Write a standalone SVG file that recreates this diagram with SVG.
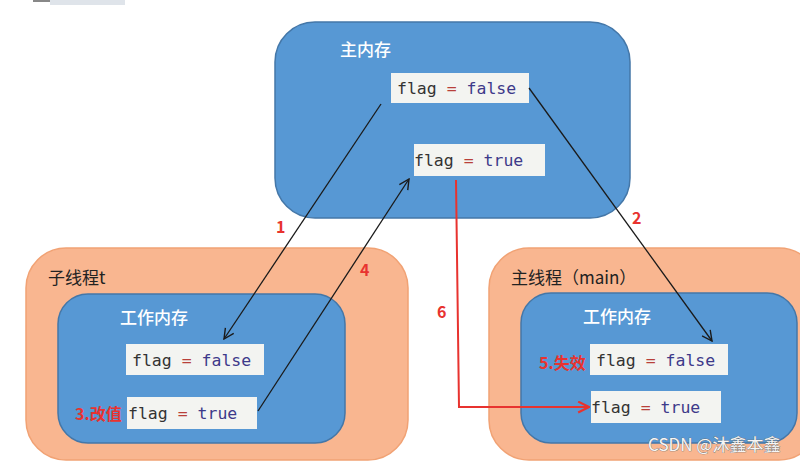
<svg xmlns="http://www.w3.org/2000/svg" width="800" height="462" viewBox="0 0 800 462">
<defs>
<style>
.blue{fill:#5798d4;stroke:#4477a8;stroke-width:1.5}
.orange{fill:#f9b690;stroke:#f1a274;stroke-width:1.5}
.val{fill:#f3f4f1}
.code{font-family:"DejaVu Sans Mono","Liberation Mono",monospace;font-size:16.5px}
.k{fill:#333333}
.eq{fill:#b8403a}
.v{fill:#3d3a8a}
.title{font-family:"Noto Sans CJK SC",sans-serif;font-size:17px;font-weight:500;fill:#ffffff}
.thr{font-family:"Noto Sans CJK SC",sans-serif;font-size:17px;fill:#222222}
.red{font-family:"Noto Sans CJK SC",sans-serif;font-size:16px;font-weight:bold;fill:#e8332f}
.line{stroke:#1a1a1a;stroke-width:1.3;fill:none}
.redline{stroke:#e8332f;stroke-width:2;fill:none}
</style>
<marker id="ah" viewBox="0 0 12 12" refX="11" refY="6" markerWidth="12" markerHeight="12" markerUnits="userSpaceOnUse" orient="auto">
<path d="M1,1 L11,6 L1,11" fill="none" stroke="#1a1a1a" stroke-width="1.4"/>
</marker>
<marker id="ahr" viewBox="0 0 12 12" refX="11" refY="6" markerWidth="13" markerHeight="13" markerUnits="userSpaceOnUse" orient="auto">
<path d="M1,1 L11,6 L1,11" fill="none" stroke="#e8332f" stroke-width="2"/>
</marker>
</defs>
<rect width="800" height="462" fill="#ffffff"/>
<rect x="33" y="0" width="17" height="2" fill="#888888"/>
<rect x="50" y="0" width="75" height="5" fill="#dfe4ea"/>

<g id="main-memory">
<rect class="blue" x="275" y="22" width="355" height="196" rx="40"/>
<text class="title" x="340" y="56">主内存</text>
<rect class="val" x="391" y="73" width="138" height="30"/>
<text class="code" x="397" y="94"><tspan class="k">flag</tspan><tspan class="eq"> = </tspan><tspan class="v">false</tspan></text>
<rect class="val" x="414" y="144" width="131" height="32"/>
<text class="code" x="414" y="166"><tspan class="k">flag</tspan><tspan class="eq"> = </tspan><tspan class="v">true</tspan></text>
</g>

<g id="thread-t">
<rect class="orange" x="26" y="248" width="382" height="212" rx="40"/>
<text class="thr" x="48" y="284">子线程t</text>
<rect class="blue" x="58" y="294" width="287" height="149" rx="30"/>
<text class="title" x="120" y="324">工作内存</text>
<rect class="val" x="126" y="344" width="138" height="31"/>
<text class="code" x="132" y="366"><tspan class="k">flag</tspan><tspan class="eq"> = </tspan><tspan class="v">false</tspan></text>
<rect class="val" x="127" y="397" width="130" height="32"/>
<text class="code" x="128" y="419"><tspan class="k">flag</tspan><tspan class="eq"> = </tspan><tspan class="v">true</tspan></text>
<text class="red" x="75" y="420">3.改值</text>
</g>

<g id="thread-main">
<rect class="orange" x="489" y="248" width="330" height="212" rx="40"/>
<text class="thr" x="511" y="284">主线程（main）</text>
<rect class="blue" x="521" y="293" width="276" height="150" rx="30"/>
<text class="title" x="583" y="323">工作内存</text>
<rect class="val" x="590" y="344" width="138" height="31"/>
<text class="code" x="596" y="366"><tspan class="k">flag</tspan><tspan class="eq"> = </tspan><tspan class="v">false</tspan></text>
<rect class="val" x="591" y="391" width="130" height="32"/>
<text class="code" x="591" y="413"><tspan class="k">flag</tspan><tspan class="eq"> = </tspan><tspan class="v">true</tspan></text>
<text class="red" x="539" y="369">5.失效</text>
</g>

<g id="connectors">
<line class="line" x1="381" y1="104" x2="224" y2="339" marker-end="url(#ah)"/>
<line class="line" x1="529" y1="88" x2="712" y2="341" marker-end="url(#ah)"/>
<line class="line" x1="258" y1="411" x2="409" y2="179" marker-end="url(#ah)"/>
<polyline class="redline" points="456,180 459,407 589,407" marker-end="url(#ahr)"/>
<text class="red" x="276" y="233">1</text>
<text class="red" x="632" y="224">2</text>
<text class="red" x="360" y="276">4</text>
<text class="red" x="437" y="318">6</text>
</g>

<text x="648" y="451" font-family="Noto Sans CJK SC,sans-serif" font-size="17" fill="#f6f6f6" stroke="#6f6f6f" stroke-width="0.7" paint-order="stroke">CSDN @沐鑫本鑫</text>
</svg>
